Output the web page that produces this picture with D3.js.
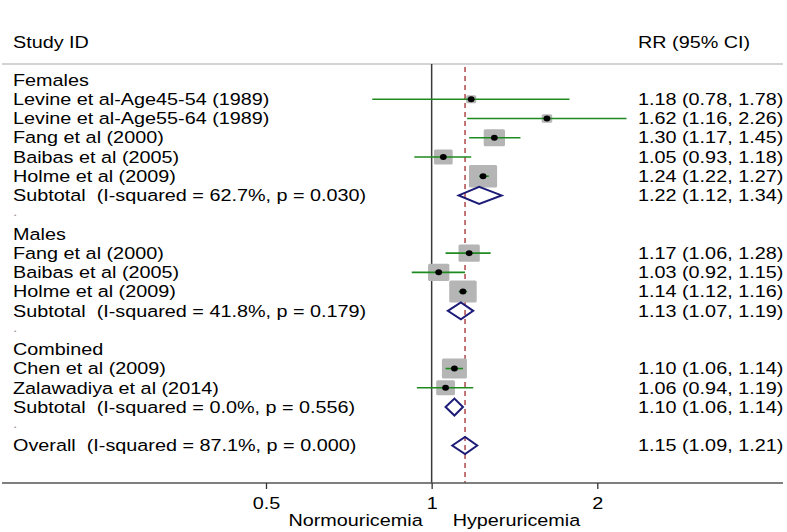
<!DOCTYPE html>
<html>
<head>
<meta charset="utf-8">
<script src="https://cdn.jsdelivr.net/npm/d3@7"></script>
<style>
  html, body { margin: 0; padding: 0; background: #fff; }
  svg { display: block; }
  text { font-family: "Liberation Sans", Arial, sans-serif; font-size: 16.5px; fill: #000; white-space: pre; }
</style>
</head>
<body>
<svg id="chart" width="787" height="532"></svg>
<script>
// ---------------- data ----------------
const rowLabels = [
  "Females",
  "Levine et al-Age45-54 (1989)",
  "Levine et al-Age55-64 (1989)",
  "Fang et al (2000)",
  "Baibas et al (2005)",
  "Holme et al (2009)",
  "Subtotal  (I-squared = 62.7%, p = 0.030)",
  ".",
  "Males",
  "Fang et al (2000)",
  "Baibas et al (2005)",
  "Holme et al (2009)",
  "Subtotal  (I-squared = 41.8%, p = 0.179)",
  ".",
  "Combined",
  "Chen et al (2009)",
  "Zalawadiya et al (2014)",
  "Subtotal  (I-squared = 0.0%, p = 0.556)",
  ".",
  "Overall  (I-squared = 87.1%, p = 0.000)"
];
const rowTypes = [
  "header","study","study","study","study","study","subtotal","spacer",
  "header","study","study","study","subtotal","spacer",
  "header","study","study","subtotal","spacer",
  "overall"
];
const rrValues = [null,1.18,1.62,1.30,1.05,1.24,1.22,null, null,1.17,1.03,1.14,1.13,null, null,1.10,1.06,1.10,null, 1.15];
const ciLower  = [null,0.78,1.16,1.17,0.93,1.22,1.12,null, null,1.06,0.92,1.12,1.07,null, null,1.06,0.94,1.06,null, 1.09];
const ciUpper  = [null,1.78,2.26,1.45,1.18,1.27,1.34,null, null,1.28,1.15,1.16,1.19,null, null,1.14,1.19,1.14,null, 1.21];
const weights  = [null,2.3,2.5,10.2,7.9,17.8,null,null, null,10.2,10.2,17.0,null,null, null,14.1,7.9,null,null, null];
const tickValues = [0.5, 1, 2];
const overallRR = 1.15;
const headerLeft = "Study ID";
const headerRight = "RR (95% CI)";
const leftAxisLabel = "Normouricemia";
const rightAxisLabel = "Hyperuricemia";

// ---------------- layout ----------------
const SX = 1.2;            // horizontal stretch of text as in the reference
const topLineY = 64, axisY = 483;
const labelX = 13, valueX = 638;

const svg = d3.select("#chart");
const x = d3.scaleLog().domain([0.5, 2]).range([266, 597.3]);
const y = d3.scaleLinear().domain([0, rowLabels.length - 1]).range([80, 445.5]);
const boxH = d3.scaleSqrt().domain([0, 17.8]).range([0, 22.5]);

function stretchedText(g, tx, ty, str, anchor) {
  return g.append("text")
    .attr("xml:space", "preserve")
    .attr("transform", `translate(${tx},${ty}) scale(${SX},1)`)
    .attr("dy", "0.35em")
    .attr("text-anchor", anchor || "start")
    .text(str);
}

// headers
stretchedText(svg, labelX, 42, headerLeft);
stretchedText(svg, valueX, 42, headerRight);

// top rule
svg.append("line")
  .attr("x1", 2).attr("x2", 783).attr("y1", topLineY).attr("y2", topLineY)
  .attr("stroke", "#c4c4c4").attr("stroke-width", 1.5);

// null line at 1
svg.append("line")
  .attr("x1", x(1)).attr("x2", x(1)).attr("y1", topLineY).attr("y2", axisY)
  .attr("stroke", "#3a3a3a").attr("stroke-width", 1.5);

// dashed overall line
svg.append("line")
  .attr("x1", x(overallRR)).attr("x2", x(overallRR)).attr("y1", topLineY + 3).attr("y2", axisY)
  .attr("stroke", "#b04848").attr("stroke-width", 1.5).attr("stroke-dasharray", "5,4");

// rows
const rows = rowLabels.map((label, i) => ({
  label, type: rowTypes[i], rr: rrValues[i], lo: ciLower[i], hi: ciUpper[i], w: weights[i], i
}));

const lbl = svg.append("g");
rows.forEach(r => {
  const t = stretchedText(lbl, labelX, y(r.i), r.label);
  if (r.type === "spacer") {
    t.style("fill", "#9a9a9a").style("font-size", "13px")
     .attr("transform", `translate(${labelX},${y(r.i) - 3}) scale(${SX},1)`);
  }
  if (r.rr != null) {
    stretchedText(lbl, valueX, y(r.i), `${r.rr.toFixed(2)} (${r.lo.toFixed(2)}, ${r.hi.toFixed(2)})`);
  }
});

// study boxes
const studies = rows.filter(r => r.type === "study");
svg.append("g").selectAll("rect").data(studies).join("rect")
  .attr("x", d => x(d.rr) - boxH(d.w) * 1.25 / 2)
  .attr("y", d => y(d.i) - boxH(d.w) / 2)
  .attr("width", d => boxH(d.w) * 1.25)
  .attr("height", d => boxH(d.w))
  .attr("rx", 1.5)
  .attr("fill", "#b5b5b5");

// CI lines
svg.append("g").selectAll("line").data(studies).join("line")
  .attr("x1", d => x(d.lo)).attr("x2", d => x(d.hi))
  .attr("y1", d => y(d.i)).attr("y2", d => y(d.i))
  .attr("stroke", "#1f8a1f").attr("stroke-width", 1.6);

// point estimates
svg.append("g").selectAll("ellipse").data(studies).join("ellipse")
  .attr("cx", d => x(d.rr)).attr("cy", d => y(d.i))
  .attr("rx", 3.4).attr("ry", 3)
  .attr("fill", "#000");

// diamonds
const pooled = rows.filter(r => r.type === "subtotal" || r.type === "overall");
svg.append("g").selectAll("path").data(pooled).join("path")
  .attr("d", d => {
    const cy = y(d.i), h = 8.5;
    return `M${x(d.lo)},${cy}L${x(d.rr)},${cy - h}L${x(d.hi)},${cy}L${x(d.rr)},${cy + h}Z`;
  })
  .attr("fill", "none")
  .attr("stroke", "#1c1c78").attr("stroke-width", 2);

// x axis
svg.append("line")
  .attr("x1", 2).attr("x2", 783).attr("y1", axisY).attr("y2", axisY)
  .attr("stroke", "#555").attr("stroke-width", 1.5);

const axis = d3.axisBottom(x).tickValues(tickValues).tickFormat(d3.format("")).tickSize(6).tickPadding(8);
const ag = svg.append("g").attr("transform", `translate(0,${axisY})`).call(axis);
ag.select(".domain").remove();
ag.selectAll(".tick line").attr("stroke", "#333").attr("stroke-width", 1.3);
ag.selectAll(".tick text")
  .attr("font-family", null).attr("font-size", null)
  .style("font-size", "16.5px").style("fill", "#000")
  .attr("transform", `scale(${SX},1)`);

stretchedText(svg, x(1) - 9, 520, leftAxisLabel, "end");
stretchedText(svg, x(1) + 21, 520, rightAxisLabel, "start");
</script>
</body>
</html>
